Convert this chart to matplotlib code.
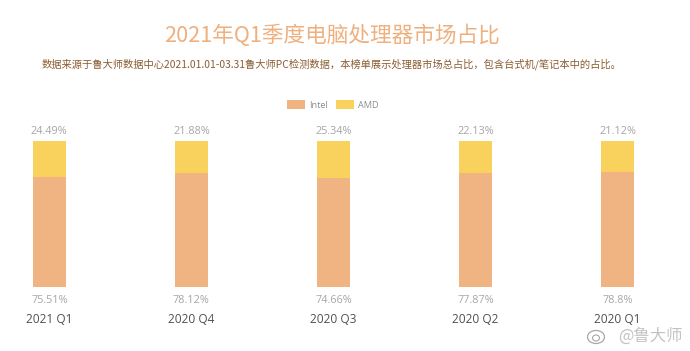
import matplotlib
matplotlib.use("Agg")
import matplotlib.pyplot as plt
from matplotlib.patches import Ellipse

plt.rcParams['font.family'] = ['Open Sans', 'Noto Sans CJK SC', 'DejaVu Sans']

quarters = ["2021 Q1", "2020 Q4", "2020 Q3", "2020 Q2", "2020 Q1"]
intel = [75.51, 78.12, 74.66, 77.87, 78.8]
amd = [24.49, 21.88, 25.34, 22.13, 21.12]

W, H = 690, 351
fig = plt.figure(figsize=(W/100, H/100), dpi=100)

# la caja de ejes va en pixeles: barras de y=141 a y=287
ax = fig.add_axes([20/W, 1-287/H, 626/W, 146/H])
pos = list(range(len(quarters)))
ax.bar(pos, intel, width=0.23, color="#F0B482", label="Intel")
ax.bar(pos, amd, width=0.23, bottom=intel, color="#F8D25C", label="AMD")
ax.set_xlim((20-49.3)/142.1, (646-49.3)/142.1)
ax.set_ylim(0, 100)
for s in ax.spines.values():
	s.set_visible(False)
ax.set_yticks([])
ax.set_xticks(pos, quarters)
ax.tick_params(axis='x', length=0, pad=18.5, labelsize=8.6, labelcolor="#505050")

for i in pos:
	ax.annotate(f"{intel[i]}%", (i, 0), xytext=(0, -9.5), textcoords="offset points",
		ha="center", va="center", fontsize=7.8, color="#A6A6A6")
	ax.annotate(f"{amd[i]}%", (i, intel[i]+amd[i]), xytext=(0, 7.2), textcoords="offset points",
		ha="center", va="center", fontsize=7.8, color="#A6A6A6")

fig.text(332/W, 1-36/H, "2021年Q1季度电脑处理器市场占比", ha="center", va="center",
	fontsize=15.6, color="#EFB07F", family=['Noto Sans CJK SC', 'DejaVu Sans'])
fig.text(332/W, 1-64/H, "数据来源于鲁大师数据中心2021.01.01-03.31鲁大师PC检测数据，本榜单展示处理器市场总占比，包含台式机/笔记本中的占比。",
	ha="center", va="center", fontsize=7.42, color="#8A5C30", family=['Noto Sans CJK SC', 'DejaVu Sans'])

fig.legend(loc="center", bbox_to_anchor=(333/W, 1-105/H), ncol=2, frameon=False,
	fontsize=6.6, labelcolor="#8C8C8C", handlelength=1.9, handleheight=1.1,
	handletextpad=0.5, columnspacing=0.9)

# marca de agua
fig.text(650/W, 1-336/H, "@鲁大师", ha="center", va="center", fontsize=11.8,
	color="#B5B5B5", alpha=0.8, family=['Noto Sans CJK SC', 'DejaVu Sans'])
fig.add_artist(Ellipse((596/W, 1-337/H), 17/W, 13/H, fill=False, ec="#A8A8A8", lw=0.9,
	transform=fig.transFigure))
fig.add_artist(Ellipse((596/W, 1-338/H), 7/W, 6/H, fill=False, ec="#A8A8A8", lw=0.8,
	transform=fig.transFigure))

fig.savefig("out.png", dpi=100)
